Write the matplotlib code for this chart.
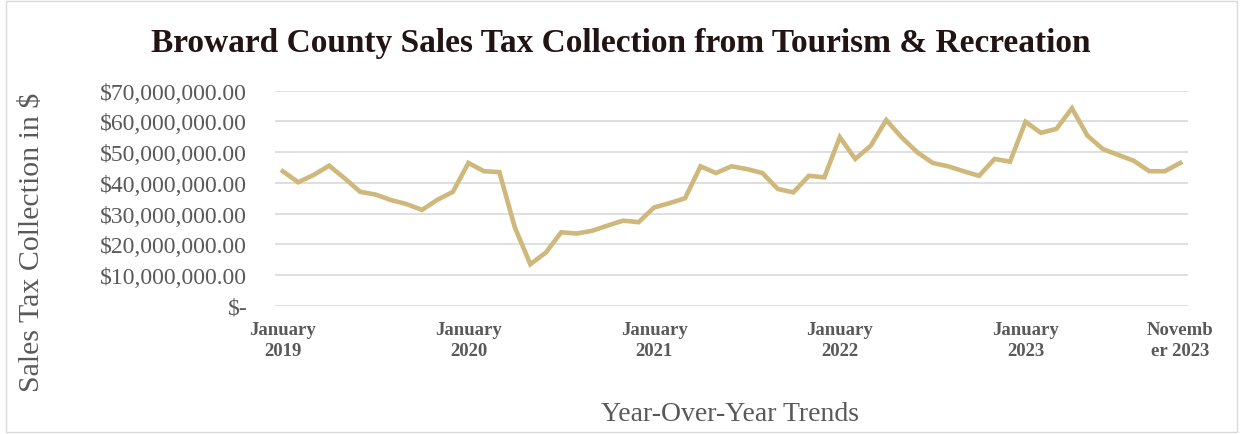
import numpy as np
import matplotlib
matplotlib.use("Agg")
import matplotlib.pyplot as plt
from matplotlib.patches import Rectangle
from matplotlib.ticker import FuncFormatter

# monthly collections, Jan 2019 .. Nov 2023 (millions of dollars)
months = [f"{m} {y}" for y in range(2019, 2024) for m in
          ["Jan", "Feb", "Mar", "Apr", "May", "Jun", "Jul", "Aug", "Sep", "Oct", "Nov", "Dec"]][:59]
collections_m = [
    43.8, 40.2, 42.6, 45.6, 41.5, 37.1, 36.2, 34.4, 33.1, 31.2, 34.5, 37.1,
    46.5, 43.8, 43.5, 25.5, 13.5, 17.3, 23.9, 23.5, 24.4, 26.1, 27.7, 27.2,
    32.0, 33.4, 35.0, 45.4, 43.2, 45.4, 44.5, 43.2, 38.0, 36.9, 42.3, 41.8,
    54.9, 47.8, 52.1, 60.5, 54.8, 50.0, 46.5, 45.4, 43.8, 42.3, 47.8, 46.9,
    59.9, 56.3, 57.6, 64.3, 55.4, 51.0, 49.1, 47.2, 43.8, 43.8, 46.5,
]
tick_idx = [0, 12, 24, 36, 48, 58]
tick_labels = ["January\n2019", "January\n2020", "January\n2021",
               "January\n2022", "January\n2023", "Novemb\ner 2023"]

values = np.array(collections_m) * 1e6
x = np.arange(len(values))

serif = "Liberation Serif"
grey = "#595959"

fig = plt.figure(figsize=(12.42, 4.35), dpi=100)
ax = fig.add_axes([0.2214, 0.295, 0.9565 - 0.2214, 0.789 - 0.295])

ax.plot(x, values, color="#CFB87C", lw=3.3, solid_joinstyle="miter", zorder=3)

ax.set_xlim(-0.5, len(values) - 0.5)
ax.set_ylim(0, 70e6)
ax.set_yticks(np.arange(0, 70e6 + 1, 10e6))
ax.yaxis.set_major_formatter(FuncFormatter(
    lambda v, p: "$-" if v == 0 else f"${v:,.2f}"))
ax.grid(axis="y", color="#D9D9D9", lw=1.2)
ax.set_axisbelow(True)
for s in ax.spines.values():
    s.set_visible(False)
ax.tick_params(length=0)
ax.set_xticks(tick_idx)
ax.set_xticklabels(tick_labels, fontfamily=serif, fontweight="bold",
                   fontsize=13.5, color=grey, linespacing=1.3)
ax.tick_params(axis="x", pad=11)
for lbl in ax.get_yticklabels():
    lbl.set_fontfamily(serif)
    lbl.set_fontsize(17)
    lbl.set_color(grey)
ax.tick_params(axis="y", pad=20)

fig.text(0.5, 0.9, "Broward County Sales Tax Collection from Tourism & Recreation",
         ha="center", va="center", fontfamily=serif, fontweight="bold",
         fontsize=24, color="#231414")
fig.text(0.026, 0.442, "Sales Tax Collection in $", rotation=90,
         ha="center", va="center", fontfamily=serif, fontsize=21.5, color=grey)
fig.text(0.588, 0.046, "Year-Over-Year Trends", ha="center", va="center",
         fontfamily=serif, fontsize=20, color=grey)

fig.patches.append(Rectangle((0.005, 0.004), 0.991, 0.992, transform=fig.transFigure,
                             fill=False, edgecolor="#D9D9D9", lw=1))

fig.savefig("out.png", dpi=100)
